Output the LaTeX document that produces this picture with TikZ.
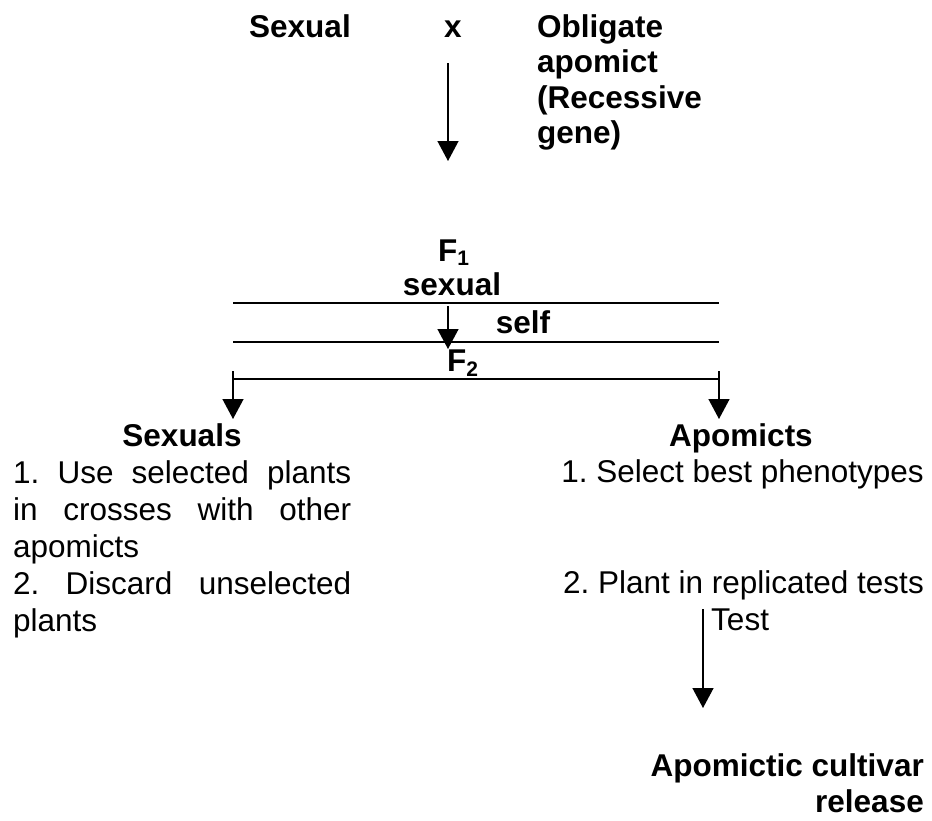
\documentclass[tikz,border=0pt]{standalone}
\usepackage{fontspec}
\setmainfont{Liberation Sans}
\usetikzlibrary{arrows.meta}
\frenchspacing
\newcommand{\subidx}[1]{\raisebox{-0.3ex}{\fontsize{21}{21}\selectfont #1}}
\begin{document}
\begin{tikzpicture}[x=1pt, y=-1pt, line join=round,
		>={Triangle[width=21pt,length=20pt]},
		txt/.style={inner sep=0pt, font=\fontsize{31.5}{37}\selectfont},
		hd/.style={txt, font=\fontsize{31.5}{35.5}\selectfont\bfseries}]
		\useasboundingbox (0,0) rectangle (932,820);
		% parents
		\node[hd, anchor=base west] (sexual) at (249,37) {Sexual};
		\node[hd, anchor=base] (cross) at (453,37) {x};
		\node[hd, anchor=base west, align=left] (apomict) at (537,143.5) {Obligate\\apomict\\(Recessive\\gene)};
		\coordinate (c1) at (448,63);
		\coordinate (c2) at (448,161);
		\draw[->, line width=1.4pt] (c1) -- (c2);
		% F1 and F2
		\node[hd, anchor=base west] (fone) at (438,261) {F\subidx{1}};
		\node[hd, anchor=base] (fsex) at (452,295) {sexual};
		\node[hd, anchor=base] (self) at (523,333) {self};
		\node[hd, anchor=base west] (ftwo) at (447,371) {F\subidx{2}};
		\coordinate (la) at (233,303); \coordinate (lb) at (719,303);
		\coordinate (ma) at (233,342); \coordinate (mb) at (719,342);
		\coordinate (na) at (233,379); \coordinate (nb) at (719,379);
		\draw[line width=2pt] (la) -- (lb);
		\draw[line width=2pt] (ma) -- (mb);
		\draw[line width=2pt] (na) -- (nb);
		\coordinate (s1) at (448,306);
		\coordinate (s2) at (448,349);
		\draw[->, line width=1.4pt] (s1) -- (s2);
		\draw[->, line width=1.4pt] (233,371) -- (233,419);
		\draw[->, line width=1.4pt] (719,371) -- (719,419);
		% two branches
		\node[hd, anchor=base] (sexuals) at (182,446) {Sexuals};
		\node[hd, anchor=base] (apomicts) at (741,446) {Apomicts};
		\node[txt, anchor=base west, text width=338pt, align=justify] (left) at (13,483)
			{1. Use selected plants\linebreak in crosses with other\linebreak apomicts\par
			2. Discard unselected\linebreak plants};
		\node[txt, anchor=base east] (pheno) at (924,482) {1. Select best phenotypes};
		\node[txt, anchor=base east] (repl) at (924,593) {2. Plant in replicated tests};
		\node[txt, anchor=base west] (test) at (711,630) {Test};
		\node[hd, anchor=base east, align=right] (release) at (924,812) {Apomictic cultivar\\release};
		\coordinate (t1) at (703,609);
		\coordinate (t2) at (703,708);
		\draw[->, line width=1.4pt] (t1) -- (t2);
\end{tikzpicture}
\end{document}
